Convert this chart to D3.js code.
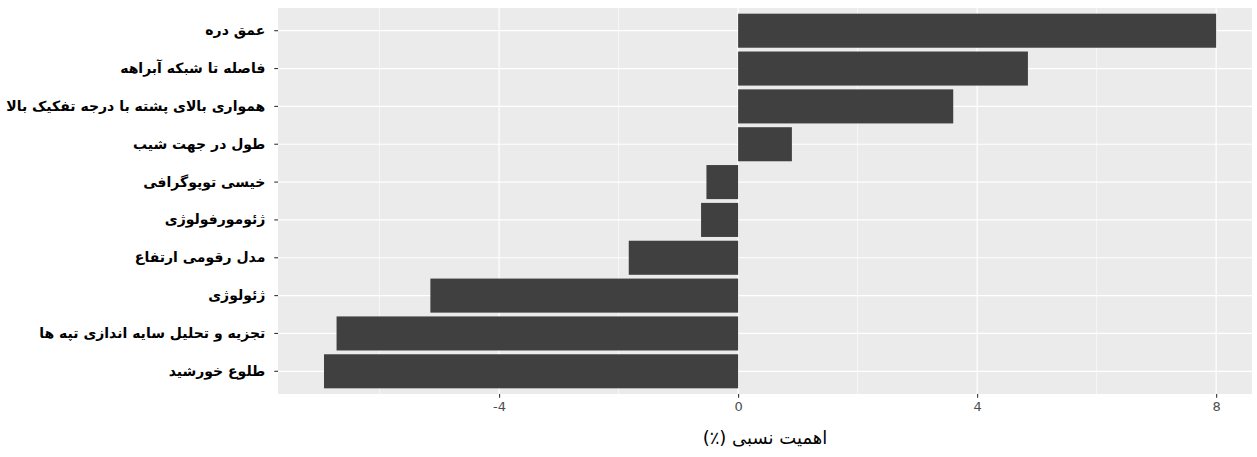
<!DOCTYPE html>
<html>
<head>
<meta charset="utf-8">
<script src="https://cdn.jsdelivr.net/npm/d3@7"></script>
<style>
  html, body { margin: 0; padding: 0; background: #fff; }
  svg { display: block; font-family: "DejaVu Sans", sans-serif; }
</style>
</head>
<body>
<div id="host"></div>
<script>
// categories, top to bottom
const factors = [
  'عمق دره',
  'فاصله تا شبکه آبراهه',
  'هموارى بالاى پشته با درجه تفکیک بالا',
  'طول در جهت شیب',
  'خیسی توپوگرافی',
  'ژئومورفولوژی',
  'مدل رقومی ارتفاع',
  'ژئولوژی',
  'تجزیه و تحلیل سایه اندازی تپه ها',
  'طلوع خورشید',
];
const importance = [8.0, 4.85, 3.6, 0.9, -0.53, -0.62, -1.83, -5.15, -6.72, -6.93];
const majorTicks = [-4, 0, 4, 8];
const minorTicks = [-6, -2, 2, 6];
const xTitle = 'اهمیت نسبی (٪)';

const width = 1257;
const height = 457;
const panel = { left: 278, right: 1252, top: 8, bottom: 394 };

const svg = d3.select('#host')
  .append('svg')
  .attr('width', width)
  .attr('height', height);

const x = d3.scaleLinear().domain([-7.7, 8.6]).range([panel.left, panel.right]);
const y = d3.scaleBand()
  .domain(factors)
  .range([panel.top, panel.bottom])
  .paddingInner(0.1)
  .paddingOuter(0.15);

// panel background
svg.append('rect')
  .attr('x', panel.left)
  .attr('y', panel.top)
  .attr('width', panel.right - panel.left)
  .attr('height', panel.bottom - panel.top)
  .attr('fill', '#ebebeb');

// grid
svg.append('g').selectAll('line')
  .data(minorTicks)
  .join('line')
  .attr('x1', (d) => x(d)).attr('x2', (d) => x(d))
  .attr('y1', panel.top).attr('y2', panel.bottom)
  .attr('stroke', '#fff').attr('stroke-width', 0.6);

svg.append('g').selectAll('line')
  .data(majorTicks)
  .join('line')
  .attr('x1', (d) => x(d)).attr('x2', (d) => x(d))
  .attr('y1', panel.top).attr('y2', panel.bottom)
  .attr('stroke', '#fff').attr('stroke-width', 1.2);

svg.append('g').selectAll('line')
  .data(factors)
  .join('line')
  .attr('x1', panel.left).attr('x2', panel.right)
  .attr('y1', (d) => y(d) + y.bandwidth() / 2)
  .attr('y2', (d) => y(d) + y.bandwidth() / 2)
  .attr('stroke', '#fff').attr('stroke-width', 1.2);

// bars
svg.append('g').selectAll('rect')
  .data(factors)
  .join('rect')
  .attr('x', (d, i) => x(Math.min(0, importance[i])))
  .attr('y', (d) => y(d))
  .attr('width', (d, i) => Math.abs(x(importance[i]) - x(0)))
  .attr('height', y.bandwidth())
  .attr('fill', '#404040');

// y axis
const yAxis = svg.append('g')
  .attr('transform', `translate(${panel.left},0)`)
  .call(d3.axisLeft(y).tickSize(3.7).tickPadding(9));
yAxis.select('.domain').remove();
yAxis.selectAll('.tick line').attr('stroke', '#333').attr('stroke-width', 1.1);
yAxis.selectAll('.tick text')
  .attr('fill', '#000')
  .style('font-size', '14px')
  .style('font-weight', 'bold')
  .style('font-family', '"DejaVu Sans", sans-serif');

// x axis
const xAxis = svg.append('g')
  .attr('transform', `translate(0,${panel.bottom})`)
  .call(d3.axisBottom(x).tickValues(majorTicks).tickSize(3.7).tickPadding(4).tickFormat((v) => String(v)));
xAxis.select('.domain').remove();
xAxis.selectAll('.tick line').attr('stroke', '#333').attr('stroke-width', 1.1);
xAxis.selectAll('.tick text')
  .attr('fill', '#4d4d4d')
  .style('font-size', '13px')
  .style('font-family', '"DejaVu Sans", sans-serif');

// x title
svg.append('text')
  .attr('x', (panel.left + panel.right) / 2)
  .attr('y', 444)
  .attr('text-anchor', 'middle')
  .attr('direction', 'rtl')
  .style('font-size', '18px')
  .attr('fill', '#000')
  .text(xTitle);
</script>
</body>
</html>
